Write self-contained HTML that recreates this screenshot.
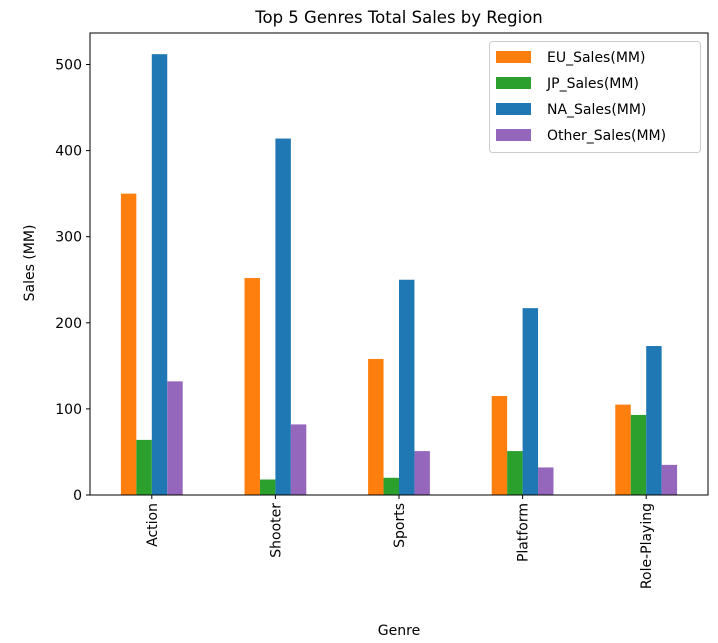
<!DOCTYPE html>
<html><head><meta charset="utf-8"><style>
body{margin:0;background:#fff;}
svg{display:block;font-family:"DejaVu Sans","Liberation Sans",sans-serif;}
</style></head><body>
<svg id="chart" width="718" height="643">
<text x="399" y="23" text-anchor="middle" font-size="16.5" fill="#000">Top 5 Genres Total Sales by Region</text>
<text x="399" y="635" text-anchor="middle" font-size="14" fill="#000">Genre</text>
<text transform="translate(34,263) rotate(-90)" text-anchor="middle" font-size="14" fill="#000">Sales (MM)</text>
<g id="bars"></g><g id="axes"></g>
<g>
<rect x="489.5" y="41.5" width="211" height="111" rx="3" fill="#fff" stroke="#ccc"/>
<g id="legend-items"></g>
</g>
</svg>
<script>
const categories=["Action","Shooter","Sports","Platform","Role-Playing"];
const seriesNames=["EU_Sales(MM)","JP_Sales(MM)","NA_Sales(MM)","Other_Sales(MM)"];
const euSales=[350,252,158,115,105];
const jpSales=[64,18,20,51,93];
const naSales=[512,414,250,217,173];
const otherSales=[132,82,51,32,35];
const yTicks=[0,100,200,300,400,500];
const colors=["#ff7f0e","#2ca02c","#1f77b4","#9467bd"];
const series=[euSales,jpSales,naSales,otherSales];
const NS="http://www.w3.org/2000/svg";
const L=90,R=708,T=33,B=495;
const step=(R-L)/categories.length;
const xc=i=>L+step*(i+0.5);
const y=v=>B-v*0.861;
function mk(tag,attrs,parent){const e=document.createElementNS(NS,tag);for(const k in attrs)e.setAttribute(k,attrs[k]);parent.appendChild(e);return e;}
const bars=document.getElementById('bars'),axes=document.getElementById('axes');
const bw=step*0.5/4;
series.forEach((s,si)=>{s.forEach((v,i)=>{
 const x=xc(i)-step*0.25+si*bw;
 const r=mk('rect',{x:x,y:y(v),width:bw,height:B-y(v),fill:colors[si]},bars);
 
 
});});
mk('rect',{x:L,y:T,width:R-L,height:B-T,fill:'none',stroke:'#000','stroke-width':1},axes);
yTicks.forEach(t=>{
 mk('line',{x1:L-4,x2:L,y1:y(t),y2:y(t),stroke:'#000'},axes);
 const tx=mk('text',{x:L-8,y:y(t)+5,'text-anchor':'end','font-size':14},axes);
 tx.textContent=t;
 
 
});
categories.forEach((c,i)=>{
 mk('line',{x1:xc(i),x2:xc(i),y1:B,y2:B+4,stroke:'#000'},axes);
 const tx=mk('text',{transform:`translate(${xc(i)+5},${B+8}) rotate(-90)`,'text-anchor':'end','font-size':14},axes);
 tx.textContent=c;
 
 
});
const li=document.getElementById('legend-items');
seriesNames.forEach((n,k)=>{
 const cy=56+k*26;
 mk('rect',{x:496,y:cy-5,width:35,height:12,fill:colors[k]},li);
 const tx=mk('text',{x:547,y:cy+6,'font-size':14},li);
 tx.textContent=n;
 
 
});
</script>
</body></html>
